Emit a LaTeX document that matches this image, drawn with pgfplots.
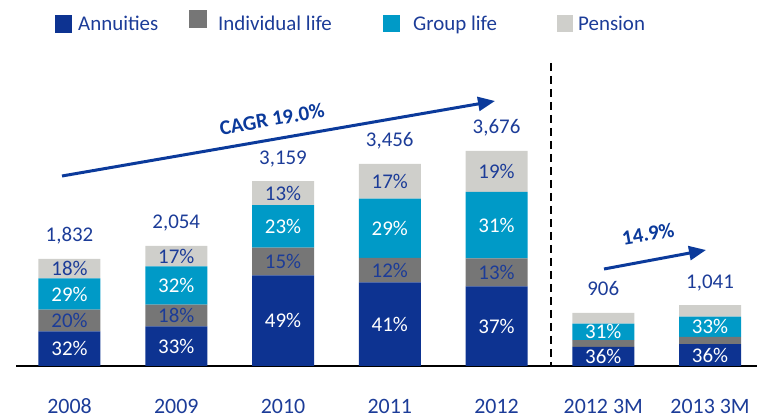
\documentclass[border=0pt]{standalone}
\usepackage{fontspec}
\setmainfont{Carlito}
\usepackage{pgfplots}
\pgfplotsset{compat=1.18}
\usepackage{pgfplotstable}
\usetikzlibrary{arrows.meta}
\definecolor{annu}{RGB}{13,51,145}
\definecolor{indiv}{RGB}{118,118,118}
\definecolor{group}{RGB}{0,154,199}
\definecolor{pens}{RGB}{207,207,203}
\definecolor{txt}{RGB}{28,60,152}
\definecolor{arr}{RGB}{11,58,155}
\pgfplotstableread{
x total tl a i g p
0 1832 1,832 32 20 29 18
1 2054 2,054 33 18 32 17
2 3159 3,159 49 15 23 13
3 3456 3,456 41 12 29 17
4 3676 3,676 37 13 31 19
5 906 906 36 13 31 20
6 1041 1,041 36 12 33 19
}\data
\newcommand{\ssum}{(\thisrow{a}+\thisrow{i}+\thisrow{g}+\thisrow{p})}
\begin{document}
\begin{tikzpicture}
\path[use as bounding box] (0,0) rectangle (757bp,418bp);
\pgfplotsset{common/.style={at={(0,0)}, anchor=south west, scale only axis,
  width=757bp, height=418bp, xmin=-0.651, xmax=6.440, ymin=-889, ymax=6256, clip=false}}
\begin{axis}[common, ybar stacked, bar width=62bp,
  axis line style={draw=none}, major tick length=0pt, ytick=\empty,
  xtick={0,...,6}, xticklabels={2008,2009,2010,2011,2012,2012 3M,2013 3M},
  xticklabel style={anchor=base, yshift=5bp, inner sep=0pt, font=\fontsize{22}{24}\selectfont, text=txt}]
\addplot[fill=annu, draw=none] table[x=x, y expr=\thisrow{total}*\thisrow{a}/\ssum]{\data};
\addplot[fill=indiv, draw=none] table[x=x, y expr=\thisrow{total}*\thisrow{i}/\ssum]{\data};
\addplot[fill=group, draw=none] table[x=x, y expr=\thisrow{total}*\thisrow{g}/\ssum]{\data};
\addplot[fill=pens, draw=none] table[x=x, y expr=\thisrow{total}*\thisrow{p}/\ssum]{\data};
\draw[line width=2.5bp, black] (axis cs:-0.501,0) -- (axis cs:6.44,0);
\end{axis}
\begin{axis}[common, hide axis, point meta=explicit symbolic,
  nodes near coords={\pgfplotspointmeta\%},
  nodes near coords style={anchor=center, inner sep=0pt, font=\fontsize{21}{24}\selectfont}]
\addplot[draw=none, mark=none, nodes near coords style={text=white}]
  table[x=x, y expr=\thisrow{total}*(\thisrow{a}/2)/\ssum, meta=a]{\data};
\addplot[draw=none, mark=none, nodes near coords style={text=txt}, skip coords between index={5}{7}]
  table[x=x, y expr=\thisrow{total}*(\thisrow{a}+\thisrow{i}/2)/\ssum, meta=i]{\data};
\addplot[draw=none, mark=none, nodes near coords style={text=white}]
  table[x=x, y expr=\thisrow{total}*(\thisrow{a}+\thisrow{i}+\thisrow{g}/2)/\ssum, meta=g]{\data};
\addplot[draw=none, mark=none, nodes near coords style={text=txt}, skip coords between index={5}{7}]
  table[x=x, y expr=\thisrow{total}*(\thisrow{a}+\thisrow{i}+\thisrow{g}+\thisrow{p}/2)/\ssum, meta=p]{\data};
\addplot[draw=none, mark=none, nodes near coords={\pgfplotspointmeta},
  nodes near coords style={anchor=base, yshift=17bp, text=txt}]
  table[x=x, y=total, meta=tl]{\data};
\end{axis}
% legend
\fill[annu] (55bp,385bp) rectangle (72bp,403bp);
\fill[indiv] (189bp,390bp) rectangle (207bp,408bp);
\fill[group] (383bp,386bp) rectangle (400bp,403bp);
\fill[pens] (557bp,386bp) rectangle (573bp,403bp);
\begin{scope}[every node/.style={anchor=base west, inner sep=0pt, text=txt, font=\fontsize{21}{24}\selectfont}]
\node at (78bp,387bp) {Annuities};
\node at (218bp,387bp) {Individual life};
\node at (413bp,387bp) {Group life};
\node at (578bp,387bp) {Pension};
\end{scope}
% arrows
\draw[arr, line width=3bp, -{Triangle[length=17bp,width=14bp]}] (62bp,242bp) -- (495bp,317bp);
\node[text=arr, rotate=10, inner sep=0pt, font=\bfseries\fontsize{21}{24}\selectfont] at (272bp,299bp) {CAGR 19.0\%};
\draw[arr, line width=3bp, -{Triangle[length=17bp,width=14bp]}] (604bp,149bp) -- (706bp,168bp);
\node[text=arr, rotate=10, inner sep=0pt, font=\bfseries\fontsize{21}{24}\selectfont] at (648bp,184bp) {14.9\%};
\draw[black, line width=2bp, dash pattern=on 8bp off 5bp] (551bp,355bp) -- (551bp,52bp);
\end{tikzpicture}
\end{document}
